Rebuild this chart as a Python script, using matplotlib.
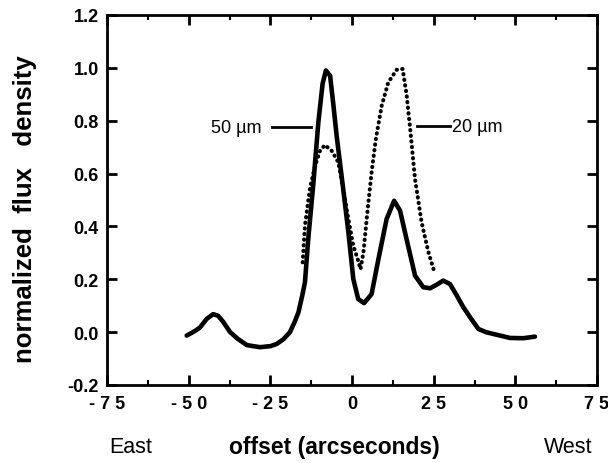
import matplotlib
matplotlib.use("Agg")
import matplotlib.pyplot as plt
from matplotlib.ticker import MultipleLocator, FixedLocator, FixedFormatter

plt.rcParams['font.family'] = ['Liberation Sans', 'DejaVu Sans']

# 50 micron profile (solid)
x50 = [-50.6, -48.0, -46.5, -44.5, -42.5, -41.0, -39.5, -37.3, -35.0, -32.2,
       -28.2, -25.0, -23.1, -21.0, -19.0, -17.5, -16.4, -15.2, -14.4, -13.4,
       -11.8, -10.3, -9.0, -8.0, -6.7, -5.7, -4.7, -2.7, -1.1, 0.4,
       1.9, 3.7, 6.0, 8.1, 10.6, 12.9, 14.7, 16.7, 19.3, 21.8,
       23.9, 26.0, 27.9, 30.0, 32.0, 34.1, 36.5, 38.7, 41.0, 43.3,
       48.4, 52.4, 56.0]
y50 = [-0.013, 0.005, 0.018, 0.050, 0.068, 0.062, 0.040, 0.000, -0.025, -0.049,
       -0.057, -0.053, -0.045, -0.027, 0.000, 0.040, 0.075, 0.140, 0.189, 0.352,
       0.567, 0.794, 0.940, 0.990, 0.970, 0.860, 0.743, 0.542, 0.378, 0.201,
       0.125, 0.110, 0.144, 0.277, 0.428, 0.497, 0.460, 0.352, 0.214, 0.170,
       0.166, 0.180, 0.195, 0.182, 0.140, 0.094, 0.050, 0.012, 0.000, -0.007,
       -0.022, -0.023, -0.017]

# 20 micron profile (dotted)
x20 = [-15.1, -14.4, -12.9, -11.3, -9.8, -8.3, -6.2, -4.2, -2.7, -1.1,
       0.4, 1.9, 2.6, 3.5, 4.7, 6.0, 7.3, 9.1, 11.1, 13.7,
       15.5, 16.7, 17.8, 19.3, 21.3, 23.4, 25.4]
y20 = [0.264, 0.403, 0.542, 0.630, 0.686, 0.708, 0.686, 0.643, 0.542, 0.428,
       0.327, 0.270, 0.238, 0.302, 0.453, 0.605, 0.731, 0.857, 0.945, 0.993,
       0.996, 0.900, 0.770, 0.579, 0.416, 0.302, 0.220]

xticks = [-75, -50, -25, 0, 25, 50, 75]
xticklabels = ['- 7 5', '- 5 0', '- 2 5', '0', '2 5', '5 0', '7 5']
yticks = [-0.2, 0.0, 0.2, 0.4, 0.6, 0.8, 1.0, 1.2]
yticklabels = ['-0.2', '0.0', '0.2', '0.4', '0.6', '0.8', '1.0', '1.2']

fig = plt.figure(figsize=(6.08, 4.64), dpi=100)
ax = fig.add_axes([107/608, 1-386/464, 490/608, 370/464])

ax.plot(x50, y50, color='black', lw=3.3, solid_capstyle='round', solid_joinstyle='round')
ax.plot(x20, y20, color='black', lw=2.9, linestyle=(0, (0.1, 1.3)), dash_capstyle='round')

ax.set_xlim(-75, 75)
ax.set_ylim(-0.2, 1.2)
ax.xaxis.set_major_locator(FixedLocator(xticks))
ax.xaxis.set_major_formatter(FixedFormatter(xticklabels))
ax.xaxis.set_minor_locator(MultipleLocator(12.5))
ax.yaxis.set_major_locator(FixedLocator(yticks))
ax.yaxis.set_major_formatter(FixedFormatter(yticklabels))

for s in ax.spines.values():
    s.set_linewidth(2.0)

ax.tick_params(which='major', direction='in', length=7, width=2, top=True, right=True,
               labelsize=13)
ax.tick_params(which='minor', direction='in', length=3.5, width=1.5, top=True, right=False,
               left=False)
ax.tick_params(axis='x', which='major', pad=7)
ax.tick_params(axis='y', which='major', pad=6)
for lab in ax.get_xticklabels() + ax.get_yticklabels():
    lab.set_fontweight('bold')

# line annotations
ax.plot([-24.5, -12.4], [0.776, 0.776], color='black', lw=2)
ax.text(-27.6, 0.776, '50 µm', ha='right', va='center', fontsize=13)
ax.plot([19.8, 30.0], [0.779, 0.779], color='black', lw=2)
ax.text(30.6, 0.779, '20 µm', ha='left', va='center', fontsize=13)

fig.text(25/608, 1-209/464, 'normalized  flux   density', rotation=90, ha='center',
         va='center', fontsize=18.5, fontweight='bold')
fig.text(334/608, 1-448/464, 'offset (arcseconds)', ha='center', va='center',
         fontsize=16.5, fontweight='bold')
fig.text(131/608, 1-448/464, 'East', ha='center', va='center', fontsize=15.5)
fig.text(568/608, 1-448/464, 'West', ha='center', va='center', fontsize=15.5)

fig.savefig('out.png', dpi=100)
